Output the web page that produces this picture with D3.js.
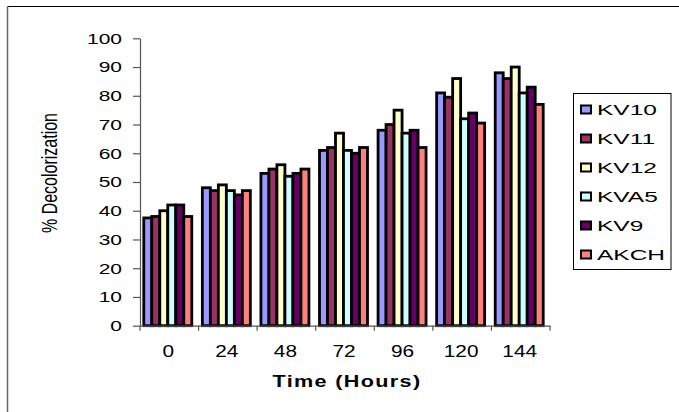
<!DOCTYPE html>
<html><head><meta charset="utf-8">
<script src="https://cdn.jsdelivr.net/npm/d3@7"></script>
<style>
html,body{margin:0;padding:0;background:#fff;}
svg text{font-family:"Liberation Sans",Arial,sans-serif;fill:#000;}
</style></head>
<body><svg id="c" width="679" height="412"></svg>
<script>
const categories = ["0","24","48","72","96","120","144"];
const seriesNames = ["KV10","KV11","KV12","KVA5","KV9","AKCH"];
const colors = ["#9999ff","#993366","#ffffcc","#ccffff","#660066","#ff8080"];
const KV10 = [37.5,48,53,61,68,81,88];
const KV11 = [38,47,54.5,62,70,79.5,86];
const KV12 = [40,49,56,67,75,86,90];
const KVA5 = [42,47,52,61,67,72,81];
const KV9  = [42,45.5,53,60,68,74,83];
const AKCH = [38,47,54.5,62,62,70.5,77];
const yTicks = [0,10,20,30,40,50,60,70,80,90,100];
const seriesValues = [KV10,KV11,KV12,KVA5,KV9,AKCH];

(function(){
const svg = d3.select("#c");
svg.append("line").attr("x1",7.5).attr("x2",679).attr("y1",6.5).attr("y2",6.5).attr("stroke","#000").attr("stroke-width",1.2);
svg.append("line").attr("x1",7.5).attr("x2",7.5).attr("y1",6.5).attr("y2",412).attr("stroke","#666").attr("stroke-width",1.5);

const pl=140, pr=550, pt=38.3, pb=325.7;
const y = d3.scaleLinear().domain([0,100]).range([pb,pt]);
const x0 = d3.scaleBand().domain(categories).range([pl,pr]).padding(0);
const groupW = 48;
const x1 = d3.scaleBand().domain(seriesNames).range([0,groupW]).padding(0);

categories.forEach((c,ci)=>{
  const gx = x0(c) + (x0.bandwidth()-groupW)/2 - 1.5;
  seriesNames.forEach((s,si)=>{
    const v = seriesValues[si][ci];
    svg.append("rect")
      .attr("x", gx + x1(s))
      .attr("y", y(v))
      .attr("width", x1.bandwidth())
      .attr("height", y(0)-y(v))
      .attr("fill", colors[si])
      .attr("stroke","#000")
      .attr("stroke-width",2.8);
  });
});

const yAxis = svg.append("g").attr("transform",`translate(${pl},0)`)
  .call(d3.axisLeft(y).tickValues(yTicks).tickSize(7).tickSizeOuter(0).tickFormat(""));
yAxis.selectAll("path,line").attr("stroke","#555").attr("stroke-width",1.2);
const ysx = 1.4;
yTicks.forEach(t=>{
  svg.append("text").attr("transform",`translate(122,${y(t)}) scale(${ysx},1)`)
    .attr("text-anchor","end").attr("dy","0.36em").attr("font-size",15).text(t);
});

const xAxis = svg.append("g").attr("transform",`translate(0,${pb})`)
  .call(d3.axisBottom(x0).tickSize(0).tickSizeOuter(0).tickFormat(""));
xAxis.selectAll("path").attr("stroke","#555").attr("stroke-width",1.2);
const bounds = categories.map(c=>x0(c)).concat([pr]);
svg.selectAll(".xt").data(bounds).enter().append("line")
  .attr("x1",d=>d).attr("x2",d=>d).attr("y1",pb).attr("y2",pb+5)
  .attr("stroke","#555").attr("stroke-width",1.2);
categories.forEach(c=>{
  svg.append("text").attr("transform",`translate(${x0(c)+x0.bandwidth()/2-1},351) scale(1.3,1)`)
    .attr("text-anchor","middle").attr("dy","0.36em").attr("font-size",16).text(c);
});

svg.append("text").attr("transform",`translate(347,381) scale(1.35,1)`)
  .attr("text-anchor","middle").attr("dy","0.36em").attr("font-size",16).attr("font-weight","bold")
  .attr("letter-spacing",1).text("Time (Hours)");
svg.append("text").attr("transform",`translate(57,173) rotate(-90) scale(1,1.35)`)
  .attr("text-anchor","middle").attr("font-size",16).text("% Decolorization");

svg.append("rect").attr("x",573.5).attr("y",93.5).attr("width",97.5).attr("height",176)
  .attr("fill","#fff").attr("stroke","#000").attr("stroke-width",1);
seriesNames.forEach((s,i)=>{
  const ly = 110 + i*29;
  svg.append("rect").attr("x",581).attr("y",ly-4.5).attr("width",10).attr("height",8)
    .attr("fill",colors[i]).attr("stroke","#000").attr("stroke-width",2);
  svg.append("text").attr("transform",`translate(597,${ly}) scale(1.75,1)`)
    .attr("dy","0.36em").attr("font-size",14).text(s);
});
})();
</script></body></html>
